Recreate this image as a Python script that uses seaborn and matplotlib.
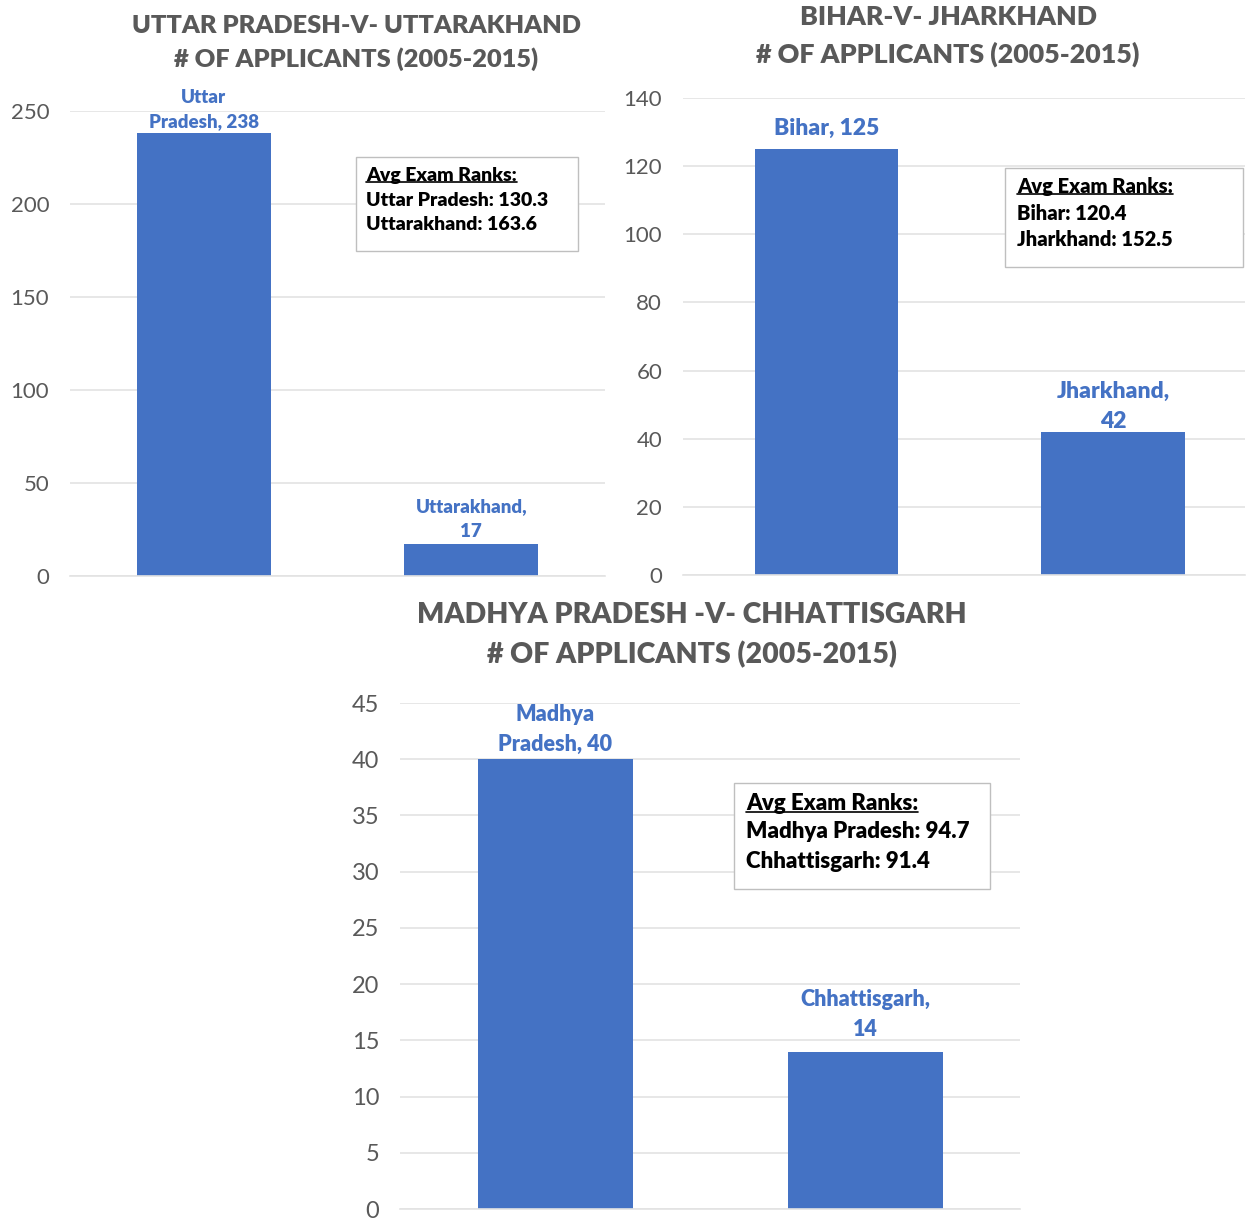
import matplotlib
matplotlib.use("Agg")
import matplotlib.pyplot as plt
from matplotlib.patches import Rectangle
from matplotlib.lines import Line2D
import seaborn as sns
import pandas as pd

# data
up_states = ["Uttar Pradesh", "Uttarakhand"]
up_counts = [238, 17]
up_ranks = [130.3, 163.6]

bh_states = ["Bihar", "Jharkhand"]
bh_counts = [125, 42]
bh_ranks = [120.4, 152.5]

mp_states = ["Madhya Pradesh", "Chhattisgarh"]
mp_counts = [40, 14]
mp_ranks = [94.7, 91.4]

BLUE = "#4472C4"
GREY = "#595959"
GRID = "#E3E3E3"
W, H = 1248, 1220

sns.set_theme(style="white")
plt.rcParams["font.family"] = ["Lato", "DejaVu Sans"]

fig = plt.figure(figsize=(W / 100, H / 100), dpi=100)


def px_ax(left, top, right, bottom):
    return fig.add_axes([left / W, 1 - bottom / H, (right - left) / W, (bottom - top) / H])


def fx(x):
    return x / W


def fy(y):
    return 1 - y / H


def panel(ax, states, counts, ymax, step, xmax, labels, lab_size, tick_size, offs):
    df = pd.DataFrame({"state": states, "count": counts})
    sns.barplot(data=df, x="state", y="count", color=BLUE, saturation=1, width=0.5,
                linewidth=0, ax=ax)
    ax.set_ylim(0, ymax)
    ax.set_xlim(-0.5, xmax)
    ax.set_yticks(range(0, ymax + 1, step))
    ax.set_xticks([])
    ax.set_xlabel("")
    ax.set_ylabel("")
    ax.grid(axis="y", color=GRID, linewidth=1.2)
    ax.set_axisbelow(True)
    for s in ["top", "right", "left"]:
        ax.spines[s].set_visible(False)
    ax.spines["bottom"].set_color(GRID)
    ax.spines["bottom"].set_linewidth(1.2)
    ax.tick_params(axis="y", length=0, pad=15, labelsize=tick_size, labelcolor=GREY)
    for i, (lab, c) in enumerate(zip(labels, counts)):
        ax.annotate(lab, xy=(i, c), xytext=(0, offs[i]), textcoords="offset points",
                    ha="center", va="bottom", color=BLUE, fontsize=lab_size,
                    fontweight="heavy", linespacing=1.55)


def title(x, y, text, size):
    fig.text(fx(x), fy(y), text, ha="center", va="center", fontsize=size,
             fontweight="heavy", color=GREY, linespacing=1.55)


def rank_box(box, lines, x0, y0, dy, size):
    l, t, r, b = box
    fig.patches.append(Rectangle((fx(l), fy(b)), fx(r - l), (b - t) / H,
                                 transform=fig.transFigure, facecolor="white",
                                 edgecolor="#BFBFBF", linewidth=1.0, zorder=5))
    texts = []
    for k, ln in enumerate(lines):
        texts.append(fig.text(fx(x0), fy(y0 + k * dy), ln, ha="left", va="center",
                              fontsize=size, fontweight="heavy", color="black", zorder=6))
    return texts[0]


ax1 = px_ax(70, 111, 605, 576)
panel(ax1, up_states, up_counts, 250, 50, 1.5,
      ["Uttar\nPradesh, %d" % up_counts[0], "Uttarakhand,\n%d" % up_counts[1]], 13.5, 16,
      [2, 3])
ax2 = px_ax(683, 98, 1245, 575)
panel(ax2, bh_states, bh_counts, 140, 20, 1.46,
      ["Bihar, %d" % bh_counts[0], "Jharkhand,\n%d" % bh_counts[1]], 16.5, 16,
      [7, 0])
ax3 = px_ax(400, 703, 1020, 1209)
panel(ax3, mp_states, mp_counts, 45, 5, 1.5,
      ["Madhya\nPradesh, %d" % mp_counts[0], "Chhattisgarh,\n%d" % mp_counts[1]], 15.5, 17,
      [3, 8])

title(356, 43, "UTTAR PRADESH-V- UTTARAKHAND\n# OF APPLICANTS (2005-2015)", 18.3)
title(948, 36, "BIHAR-V- JHARKHAND\n# OF APPLICANTS (2005-2015)", 19.3)
title(692, 635, "MADHYA PRADESH -V- CHHATTISGARH\n# OF APPLICANTS (2005-2015)", 20.5)

heads = []
heads.append(rank_box((356, 157, 578, 251),
                      ["Avg Exam Ranks:", "Uttar Pradesh: %.1f" % up_ranks[0],
                       "Uttarakhand: %.1f" % up_ranks[1]], 366, 175, 25, 14))
heads.append(rank_box((1005, 168, 1243, 267),
                      ["Avg Exam Ranks:", "Bihar: %.1f" % bh_ranks[0],
                       "Jharkhand: %.1f" % bh_ranks[1]], 1017, 186, 27, 14.5))
heads.append(rank_box((734, 783, 990, 889),
                      ["Avg Exam Ranks:", "Madhya Pradesh: %.1f" % mp_ranks[0],
                       "Chhattisgarh: %.1f" % mp_ranks[1]], 746, 803, 29, 16))

# underline the box headings
fig.canvas.draw()
r = fig.canvas.get_renderer()
for t in heads:
    bb = t.get_window_extent(r)
    y = (bb.y0 + 1.5) / fig.bbox.height
    fig.lines.append(Line2D([bb.x0 / fig.bbox.width, bb.x1 / fig.bbox.width], [y, y],
                            transform=fig.transFigure, color="black", linewidth=1.2, zorder=7))

fig.savefig("out.png", dpi=100)
